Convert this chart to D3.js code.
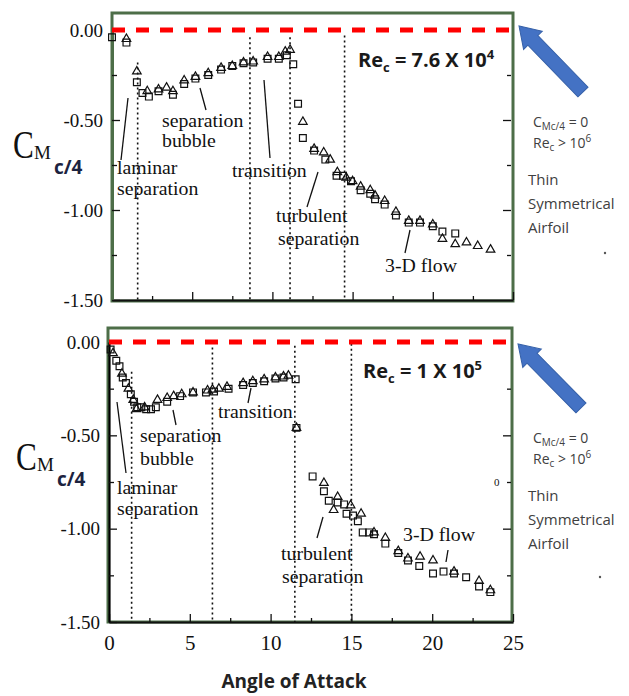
<!DOCTYPE html>
<html>
<head>
<meta charset="utf-8">
<script src="https://cdn.jsdelivr.net/npm/d3@7"></script>
<style>
  body { margin: 0; background: #fff; }
  .serif { font-family: 'Liberation Serif', 'DejaVu Serif', serif; }
  .sans { font-family: 'Open Sans', 'Liberation Sans', sans-serif; }
</style>
</head>
<body>
<div id="chart-area"></div>
<script>
const width = 629;
const height = 696;

// axis ticks
const xMajor = [0, 5, 10, 15, 20, 25];
const xMinor = [2.5, 7.5, 12.5, 17.5, 22.5];
const yMajor = [0, -0.5, -1.0, -1.5];
const yMinor = [-0.25, -0.75, -1.25];

// Re = 7.6 x 10^4  [angle, Cm]
const topSquares = [[0.0,-0.04],[0.9,-0.07],[1.55,-0.29],[1.9,-0.35],[2.3,-0.37],[2.9,-0.34],[3.8,-0.36],
  [4.5,-0.30],[5.2,-0.27],[6.0,-0.25],[6.8,-0.22],[7.5,-0.20],[8.2,-0.185],[8.8,-0.18],[9.7,-0.16],
  [10.4,-0.16],[10.9,-0.14],[11.3,-0.19],[11.6,-0.41],[11.9,-0.60],[12.6,-0.67],[13.3,-0.72],[14.0,-0.81],
  [14.4,-0.81],[14.9,-0.84],[15.5,-0.89],[16.1,-0.91],[16.4,-0.94],[17.0,-0.97],[17.7,-1.03],[18.5,-1.07],
  [19.2,-1.07],[20.0,-1.09],[20.6,-1.12],[21.4,-1.13]];
const topTriangles = [[0.9,-0.05],[1.55,-0.23],[2.2,-0.34],[2.9,-0.33],[3.4,-0.32],[3.8,-0.34],[4.5,-0.28],
  [5.2,-0.26],[6.0,-0.24],[6.8,-0.21],[7.5,-0.20],[8.2,-0.18],[8.8,-0.175],[9.7,-0.15],[10.4,-0.15],
  [10.8,-0.12],[11.1,-0.11],[11.9,-0.51],[12.6,-0.66],[13.2,-0.68],[13.6,-0.72],[14.05,-0.79],[14.6,-0.82],
  [15.0,-0.84],[15.5,-0.87],[16.1,-0.89],[16.4,-0.92],[17.0,-0.95],[17.7,-1.01],[18.5,-1.06],[19.2,-1.06],
  [20.0,-1.08],[20.6,-1.16],[21.4,-1.19],[22.1,-1.18],[22.8,-1.20],[23.6,-1.22]];
// dotted dividers [angle, top Cm]
const topDividers = [[1.6,-0.18],[8.6,-0.04],[11.1,-0.04],[14.5,-0.03]];

// Re = 1 x 10^5
const botSquares = [[0.1,-0.04],[0.45,-0.10],[0.65,-0.13],[0.85,-0.19],[1.05,-0.22],[1.35,-0.28],[1.55,-0.32],
  [1.75,-0.35],[2.0,-0.35],[2.3,-0.36],[2.6,-0.36],[2.9,-0.35],[3.6,-0.32],[4.4,-0.29],[5.2,-0.27],[6.0,-0.27],
  [6.5,-0.265],[7.4,-0.25],[8.3,-0.23],[8.9,-0.22],[9.6,-0.21],[10.3,-0.195],[10.8,-0.19],[11.55,-0.20],
  [11.6,-0.46],[12.6,-0.72],[13.3,-0.80],[13.6,-0.85],[14.15,-0.86],[14.55,-0.87],[14.7,-0.92],[15.1,-0.93],
  [15.4,-0.96],[15.7,-1.02],[16.1,-1.02],[16.4,-1.03],[17.1,-1.08],[17.9,-1.13],[18.5,-1.17],[19.2,-1.20],
  [20.05,-1.24],[20.7,-1.23],[21.35,-1.24],[22.1,-1.26],[22.9,-1.31],[23.6,-1.34]];
const botTriangles = [[0.25,-0.06],[0.8,-0.17],[1.2,-0.25],[1.5,-0.31],[1.7,-0.36],[2.2,-0.35],[3.0,-0.31],
  [3.6,-0.30],[4.0,-0.29],[4.5,-0.28],[5.2,-0.27],[6.1,-0.26],[6.4,-0.255],[6.8,-0.25],[7.3,-0.24],[8.3,-0.22],
  [8.9,-0.21],[9.6,-0.20],[10.3,-0.19],[10.8,-0.185],[11.1,-0.18],[11.6,-0.46],[13.3,-0.755],[13.9,-0.90],
  [14.15,-0.83],[14.95,-0.875],[15.6,-0.92],[16.4,-1.02],[17.1,-1.05],[17.9,-1.12],[18.5,-1.16],[19.25,-1.15],
  [20.05,-1.17],[21.35,-1.23],[22.9,-1.28],[23.6,-1.33]];
const botDividers = [[1.4,-0.16],[6.4,-0.03],[11.5,-0.02],[15.0,-0.01]];

const green = '#4d6e48';
const fmt = d => d3.format('.2f')(d).replace('\u2212', '-');

const svg = d3.select('#chart-area').append('svg')
  .attr('width', width)
  .attr('height', height);

const panels = [
  {
    xr: [112, 513], yr: [30, 300], frame: [112, 13, 401, 288], leftColor: green, xLabels: false,
    squares: topSquares, triangles: topTriangles, dividers: topDividers,
    re: { x: 358, y: 67, mant: '7.6', exp: '4' },
    cm: { x: 13, y: 158 },
    arrow: { tip: [519, 26], tail: [583, 92] },
    note: { x: 533, y: 127 },
    texts: [['separation',162,127],['bubble',162,147],['laminar',117,174],['separation',117,195],
      ['transition',232,177],['turbulent',276,222],['separation',278,245],['3-D flow',385,272]],
    leaders: [[128,98,121,160],[200,88,206,110],[264,80,270,158],[318,172,307,207],[410,230,405,253]],
    dot: [605, 253]
  },
  {
    xr: [109, 513], yr: [342, 622], frame: [108, 328, 404, 294], leftColor: '#000', xLabels: true,
    squares: botSquares, triangles: botTriangles, dividers: botDividers,
    re: { x: 363, y: 378, mant: '1', exp: '5' },
    cm: { x: 16, y: 470 },
    arrow: { tip: [518, 344], tail: [581, 408] },
    note: { x: 533, y: 443 },
    texts: [['separation',140,442],['bubble',140,465],['laminar',117,494],['separation',117,515],
      ['transition',218,418],['turbulent',281,560],['separation',282,583],['3-D flow',403,541]],
    leaders: [[117,402,126,473],[173,410,176,425],[251,388,248,403],[323,517,317,538],[448,550,446,562]],
    dot: [600, 577]
  }
];

panels.forEach(p => drawPanel(p));

function drawPanel(p) {
  const x = d3.scaleLinear().domain([0, 25]).range(p.xr);
  const y = d3.scaleLinear().domain([0, -1.5]).range(p.yr);
  const g = svg.append('g');

  // green frame
  g.append('rect')
    .attr('x', p.frame[0]).attr('y', p.frame[1])
    .attr('width', p.frame[2]).attr('height', p.frame[3])
    .attr('fill', 'none').attr('stroke', green).attr('stroke-width', 3);

  // dotted dividers
  g.selectAll('.divider').data(p.dividers).enter()
    .append('line')
      .attr('x1', d => x(d[0])).attr('x2', d => x(d[0]))
      .attr('y1', d => y(d[1])).attr('y2', y(-1.5))
      .attr('stroke', '#111').attr('stroke-width', 1.6)
      .attr('stroke-dasharray', '2,3');

  // bottom axis
  const xAxis = g.append('g').attr('transform', `translate(0,${y(-1.5)})`);
  xAxis.call(d3.axisBottom(x).tickValues(xMajor).tickSizeInner(-8).tickSizeOuter(0).tickPadding(13)
    .tickFormat(p.xLabels ? d3.format('d') : ''));
  xAxis.append('g').call(d3.axisBottom(x).tickValues(xMinor).tickSize(-4).tickFormat(''))
    .select('.domain').remove();

  // left axis
  const yAxis = g.append('g').attr('transform', `translate(${x(0)},0)`);
  yAxis.call(d3.axisLeft(y).tickValues(yMajor).tickSizeInner(-8).tickSizeOuter(0).tickPadding(9)
    .tickFormat(fmt));
  yAxis.append('g').call(d3.axisLeft(y).tickValues(yMinor).tickSize(-5).tickFormat(''))
    .select('.domain').remove();

  // right ticks
  const rAxis = g.append('g').attr('transform', `translate(${x(25) - 2},0)`);
  rAxis.call(d3.axisRight(y).tickValues(yMajor.slice(1, 3)).tickSize(-8).tickFormat(''));
  rAxis.append('g').call(d3.axisRight(y).tickValues(yMinor).tickSize(-4).tickFormat(''));
  rAxis.selectAll('.domain').remove();

  [xAxis, yAxis, rAxis].forEach(a => {
    a.selectAll('line').attr('stroke', '#111').attr('stroke-width', 1.3);
    a.selectAll('text').attr('class', 'serif').attr('fill', '#111')
      .style('font-size', '19px');
  });
  xAxis.select('.domain').attr('stroke', '#111').attr('stroke-width', 2.2);
  xAxis.selectAll('text').style('font-size', '21px');
  yAxis.select('.domain').attr('stroke', p.leftColor).attr('stroke-width', p.leftColor === green ? 3 : 2.2);

  // red dashed zero line
  g.append('line')
    .attr('x1', x(0)).attr('x2', x(25) - 3)
    .attr('y1', y(0)).attr('y2', y(0))
    .attr('stroke', '#ff0000').attr('stroke-width', 5)
    .attr('stroke-dasharray', '13,11');

  // markers
  g.selectAll('.sq').data(p.squares).enter()
    .append('path')
      .attr('d', d3.symbol(d3.symbolSquare, 46))
      .attr('transform', d => `translate(${x(d[0])},${y(d[1])})`)
      .attr('fill', 'none').attr('stroke', '#111').attr('stroke-width', 1.2);
  g.selectAll('.tri').data(p.triangles).enter()
    .append('path')
      .attr('d', d3.symbol(d3.symbolTriangle, 32))
      .attr('transform', d => `translate(${x(d[0])},${y(d[1])})`)
      .attr('fill', 'none').attr('stroke', '#111').attr('stroke-width', 1.2);

  // annotations
  g.selectAll('.ann').data(p.texts).enter()
    .append('text')
      .attr('class', 'serif')
      .attr('transform', d => `translate(${d[1]},${d[2]}) scale(1.1,1)`)
      .style('font-size', '18px').attr('fill', '#111')
      .text(d => d[0]);
  g.selectAll('.lead').data(p.leaders).enter()
    .append('line')
      .attr('x1', d => d[0]).attr('y1', d => d[1])
      .attr('x2', d => d[2]).attr('y2', d => d[3])
      .attr('stroke', '#111').attr('stroke-width', 1.3);

  // Reynolds label
  const re = g.append('text').attr('class', 'sans')
    .attr('x', p.re.x).attr('y', p.re.y)
    .style('font-size', '20px').style('font-weight', 700).attr('fill', '#1a1a1a');
  re.append('tspan').text('Re');
  re.append('tspan').attr('dy', 5).style('font-size', '13px').text('c');
  re.append('tspan').attr('dy', -5).text(` = ${p.re.mant} X 10`);
  re.append('tspan').attr('dy', -8).style('font-size', '13px').text(p.re.exp);

  // y label
  g.append('text').attr('class', 'serif')
    .attr('transform', `translate(${p.cm.x},${p.cm.y}) scale(0.78,1)`)
    .style('font-size', '40px').attr('fill', '#111').text('C');
  g.append('text').attr('class', 'serif')
    .attr('x', p.cm.x + 21).attr('y', p.cm.y + 1)
    .style('font-size', '19px').attr('fill', '#111').text('M');
  g.append('text').attr('class', 'sans')
    .attr('x', p.cm.x + 41).attr('y', p.cm.y + 16)
    .style('font-size', '19px').style('font-weight', 700).attr('fill', '#1c2340').text('c/4');

  // arrow
  const a = p.arrow;
  const dx = a.tip[0] - a.tail[0], dy = a.tip[1] - a.tail[1];
  const len = Math.hypot(dx, dy), ang = Math.atan2(dy, dx) * 180 / Math.PI;
  const hl = 20, hw = 13, sw = 7;
  const pts = [[0, -sw], [len - hl, -sw], [len - hl, -hw], [len, 0], [len - hl, hw], [len - hl, sw], [0, sw]];
  g.append('polygon')
    .attr('points', pts.map(q => q.join(',')).join(' '))
    .attr('transform', `translate(${a.tail}) rotate(${ang})`)
    .attr('fill', '#4472c4').attr('stroke', '#3560a8').attr('stroke-width', 1);

  // side note
  const n = p.note;
  const t1 = g.append('text').attr('class', 'sans').attr('x', n.x).attr('y', n.y)
    .style('font-size', '14px').attr('fill', '#404040');
  t1.append('tspan').text('C');
  t1.append('tspan').attr('dy', 3).style('font-size', '10px').text('Mc/4');
  t1.append('tspan').attr('dy', -3).text(' = 0');
  const t2 = g.append('text').attr('class', 'sans').attr('x', n.x).attr('y', n.y + 21)
    .style('font-size', '14px').attr('fill', '#404040');
  t2.append('tspan').text('Re');
  t2.append('tspan').attr('dy', 3).style('font-size', '10px').text('c');
  t2.append('tspan').attr('dy', -3).text(' > 10');
  t2.append('tspan').attr('dy', -6).style('font-size', '10px').text('6');
  ['Thin', 'Symmetrical', 'Airfoil'].forEach((s, i) => {
    g.append('text').attr('class', 'sans')
      .attr('x', n.x - 5).attr('y', n.y + 58 + i * 24)
      .style('font-size', '15px').attr('fill', '#404040').text(s);
  });
  g.append('circle').attr('cx', p.dot[0]).attr('cy', p.dot[1]).attr('r', 1.2).attr('fill', '#555');
}

// stray tick label on bottom-right of lower panel
svg.append('text').attr('class', 'serif')
  .attr('x', 494).attr('y', 486)
  .style('font-size', '11px').attr('fill', '#111').text('0');

// x axis title
svg.append('text').attr('class', 'sans')
  .attr('x', 294).attr('y', 688)
  .attr('text-anchor', 'middle')
  .style('font-size', '19px').style('font-weight', 700).attr('fill', '#222')
  .text('Angle of Attack');
</script>
</body>
</html>
